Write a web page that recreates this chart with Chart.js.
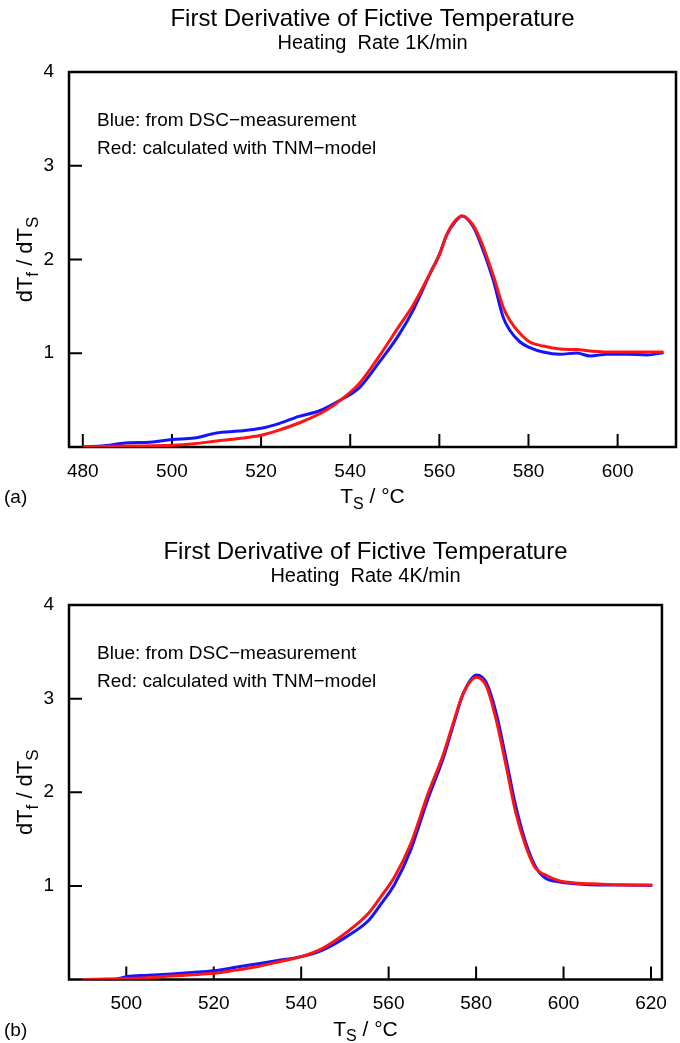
<!DOCTYPE html>
<html>
<head>
<meta charset="utf-8">
<script src="https://cdn.jsdelivr.net/npm/chart.js@4"></script>
<style>
  body { margin: 0; background: #fff; }
  .panel { position: absolute; left: 0; width: 680px; }
</style>
</head>
<body>
<div class="panel" style="top:0;height:521px"><canvas id="chartA"></canvas></div>
<div class="panel" style="top:521px;height:522px"><canvas id="chartB"></canvas></div>
<script>
// tick values
const xTicksA = [480, 500, 520, 540, 560, 580, 600];
const xTicksB = [500, 520, 540, 560, 580, 600, 620];
const yTicks = [1, 2, 3, 4];

// (a) heating rate 1K/min
const blueTempA = [480, 486, 490, 495, 500, 505, 510, 515, 520, 524, 528.5, 533, 538, 542, 546.6, 550.7, 554.1, 557.9, 560.1, 561.6, 563.5, 565.1, 567.6, 569.1, 572.1, 574.3, 575.8, 578.1, 580.3, 583.3, 587.1, 590.8, 593.8, 597.6, 602.1, 606.6, 610.3];
const blueValA = [0, 0.02, 0.045, 0.05, 0.08, 0.095, 0.15, 0.17, 0.2, 0.25, 0.327, 0.384, 0.506, 0.63, 0.91, 1.18, 1.458, 1.85, 2.063, 2.258, 2.4, 2.464, 2.35, 2.19, 1.78, 1.387, 1.245, 1.12, 1.06, 1.013, 0.989, 1.003, 0.971, 0.989, 0.989, 0.982, 1.006];
const redTempA = [480, 485, 490, 500, 505, 510, 515, 520, 524, 528.5, 534.5, 538, 542, 546.6, 550.7, 554.1, 557.9, 560.1, 561.6, 563.5, 565.1, 567.6, 569.1, 572.1, 574.3, 575.8, 578.1, 580.3, 583.3, 587.1, 590.8, 593.8, 597.6, 602.1, 606.6, 610.3];
const redValA = [0, 0.005, 0.01, 0.018, 0.035, 0.064, 0.09, 0.125, 0.18, 0.256, 0.39, 0.506, 0.676, 0.975, 1.27, 1.511, 1.85, 2.063, 2.258, 2.41, 2.464, 2.365, 2.223, 1.83, 1.494, 1.351, 1.21, 1.12, 1.077, 1.045, 1.039, 1.024, 1.013, 1.013, 1.013, 1.013];

// (b) heating rate 4K/min
const blueTempB = [497.6, 500, 505, 510.3, 515, 520, 525, 529.8, 535, 540, 544.9, 550.1, 555.4, 558, 561.4, 565.1, 568.9, 572.6, 574.9, 577.1, 580.1, 582.4, 584.6, 586.9, 589.1, 591.4, 593.6, 595.9, 598.9, 603.4, 607.9, 613.9, 620.3];
const blueValB = [0, 0.03, 0.045, 0.059, 0.075, 0.094, 0.13, 0.166, 0.205, 0.244, 0.315, 0.45, 0.63, 0.79, 1.02, 1.39, 1.918, 2.38, 2.737, 3.058, 3.253, 3.164, 2.844, 2.345, 1.846, 1.455, 1.205, 1.081, 1.045, 1.02, 1.01, 1.01, 1.005];
const redTempB = [490, 500, 505, 510.3, 515, 520, 525, 529.8, 535, 540, 544.9, 550.1, 555.4, 558, 561.4, 565.1, 568.9, 572.6, 574.9, 577.1, 580.1, 582.4, 584.6, 586.9, 589.1, 591.4, 593.6, 595.9, 598.9, 603.4, 607.9, 613.9, 620.3];
const redValB = [0, 0.01, 0.02, 0.037, 0.05, 0.066, 0.1, 0.137, 0.19, 0.244, 0.333, 0.494, 0.707, 0.87, 1.1, 1.455, 1.971, 2.417, 2.76, 3.06, 3.229, 3.128, 2.772, 2.273, 1.776, 1.419, 1.188, 1.116, 1.056, 1.028, 1.02, 1.01, 1.01];

const FONT = '"Liberation Sans", Arial, Helvetica, sans-serif';
const toPoints = (xs, ys) => xs.map((x, i) => ({ x: x, y: ys[i] }));

// draws a run of text pieces, some of them as subscripts
const drawParts = (ctx, parts, x, y, size) => {
    const subSize = Math.round(size * 0.78);
    let total = 0;
    parts.forEach(p => {
        ctx.font = (p.sub ? subSize : size) + 'px ' + FONT;
        total += ctx.measureText(p.t).width;
    });
    let cx = x - total / 2;
    ctx.textAlign = 'left';
    parts.forEach(p => {
        ctx.font = (p.sub ? subSize : size) + 'px ' + FONT;
        ctx.fillText(p.t, cx, p.sub ? y + size * 0.28 : y);
        cx += ctx.measureText(p.t).width;
    });
};

// box, inward ticks and all the texts
const framePlugin = {
    id: 'frame',
    beforeDatasetsDraw(chart, args, opts) {
        const { ctx, chartArea: a, scales: { x, y } } = chart;
        ctx.save();
        ctx.strokeStyle = '#000';
        ctx.lineWidth = 2.5;
        ctx.strokeRect(a.left, a.top, a.right - a.left, a.bottom - a.top);
        ctx.lineWidth = 2;
        ctx.beginPath();
        opts.xTicks.forEach(v => {
            const px = x.getPixelForValue(v);
            ctx.moveTo(px, a.bottom);
            ctx.lineTo(px, a.bottom - 13);
        });
        [1, 2, 3].forEach(v => {
            const py = y.getPixelForValue(v);
            ctx.moveTo(a.left, py);
            ctx.lineTo(a.left + 13, py);
        });
        ctx.stroke();
        ctx.restore();
    },
    afterDraw(chart, args, opts) {
        const { ctx, chartArea: a } = chart;
        const cx = (a.left + a.right) / 2;
        ctx.save();
        ctx.fillStyle = '#000';
        ctx.textBaseline = 'middle';
        ctx.textAlign = 'center';
        ctx.font = '24px ' + FONT;
        ctx.fillText('First Derivative of Fictive Temperature', cx, a.top - 53);
        ctx.font = '20px ' + FONT;
        ctx.fillText(opts.subtitle, cx, a.top - 29);

        // legend text inside the box
        ctx.textAlign = 'left';
        ctx.textBaseline = 'alphabetic';
        ctx.font = '19px ' + FONT;
        ctx.fillText('Blue: from DSC\u2212measurement', a.left + 28, a.top + 54);
        ctx.fillText('Red: calculated with TNM\u2212model', a.left + 28, a.top + 82);

        // x axis title
        drawParts(ctx, [{ t: 'T' }, { t: 'S', sub: true }, { t: ' / \u00b0C' }], cx, a.bottom + 56, 21);
        // panel letter
        ctx.textAlign = 'left';
        ctx.font = '19px ' + FONT;
        ctx.fillText(opts.letter, 4, a.bottom + 56);

        // y axis title
        ctx.translate(32, (a.top + a.bottom) / 2);
        ctx.rotate(-Math.PI / 2);
        drawParts(ctx, [{ t: 'dT' }, { t: 'f', sub: true }, { t: ' / dT' }, { t: 'S', sub: true }], 0, 0, 22);
        ctx.restore();
    }
};

const makeChart = (id, cfg) => {
    const canvasH = cfg.height;
    return new Chart(document.getElementById(id), {
        type: 'line',
        data: {
            datasets: [
                { label: 'calculated with TNM-model', data: toPoints(cfg.redT, cfg.redV), borderColor: 'rgb(255,20,20)', order: 0 },
                { label: 'from DSC-measurement', data: toPoints(cfg.blueT, cfg.blueV), borderColor: 'rgb(20,20,255)', order: 1 }
            ]
        },
        options: {
            responsive: true,
            maintainAspectRatio: false,
            animation: false,
            parsing: false,
            elements: {
                point: { radius: 0 },
                line: { borderWidth: 3, cubicInterpolationMode: 'monotone' }
            },
            layout: { padding: { top: cfg.top, right: 680 - cfg.right, left: 0, bottom: 0 } },
            plugins: {
                legend: { display: false },
                tooltip: { enabled: false },
                frame: { xTicks: cfg.xTicks, subtitle: cfg.subtitle, letter: cfg.letter }
            },
            scales: {
                x: {
                    type: 'linear',
                    min: cfg.xMin,
                    max: cfg.xMax,
                    grid: { display: false, drawTicks: false },
                    border: { display: false },
                    ticks: { color: '#000', font: { family: FONT, size: 19 }, padding: 13, maxRotation: 0 },
                    afterBuildTicks: axis => { axis.ticks = cfg.xTicks.map(v => ({ value: v })); },
                    afterFit: axis => { axis.height = canvasH - cfg.bottom; }
                },
                y: {
                    min: 0,
                    max: 4,
                    grid: { display: false, drawTicks: false },
                    border: { display: false },
                    ticks: { color: '#000', font: { family: FONT, size: 19 }, padding: 15 },
                    afterBuildTicks: axis => { axis.ticks = yTicks.map(v => ({ value: v })); },
                    afterFit: axis => { axis.width = cfg.left; }
                }
            }
        },
        plugins: [framePlugin]
    });
};

makeChart('chartA', {
    height: 521, top: 72, bottom: 447, left: 69, right: 676,
    xMin: 476.9, xMax: 613.1, xTicks: xTicksA,
    subtitle: 'Heating  Rate 1K/min', letter: '(a)',
    blueT: blueTempA, blueV: blueValA, redT: redTempA, redV: redValA
});

makeChart('chartB', {
    height: 522, top: 84, bottom: 458.5, left: 69, right: 672,
    xMin: 486.9, xMax: 622.5, xTicks: xTicksB,
    subtitle: 'Heating  Rate 4K/min', letter: '(b)',
    blueT: blueTempB, blueV: blueValB, redT: redTempB, redV: redValB
});
</script>
</body>
</html>
